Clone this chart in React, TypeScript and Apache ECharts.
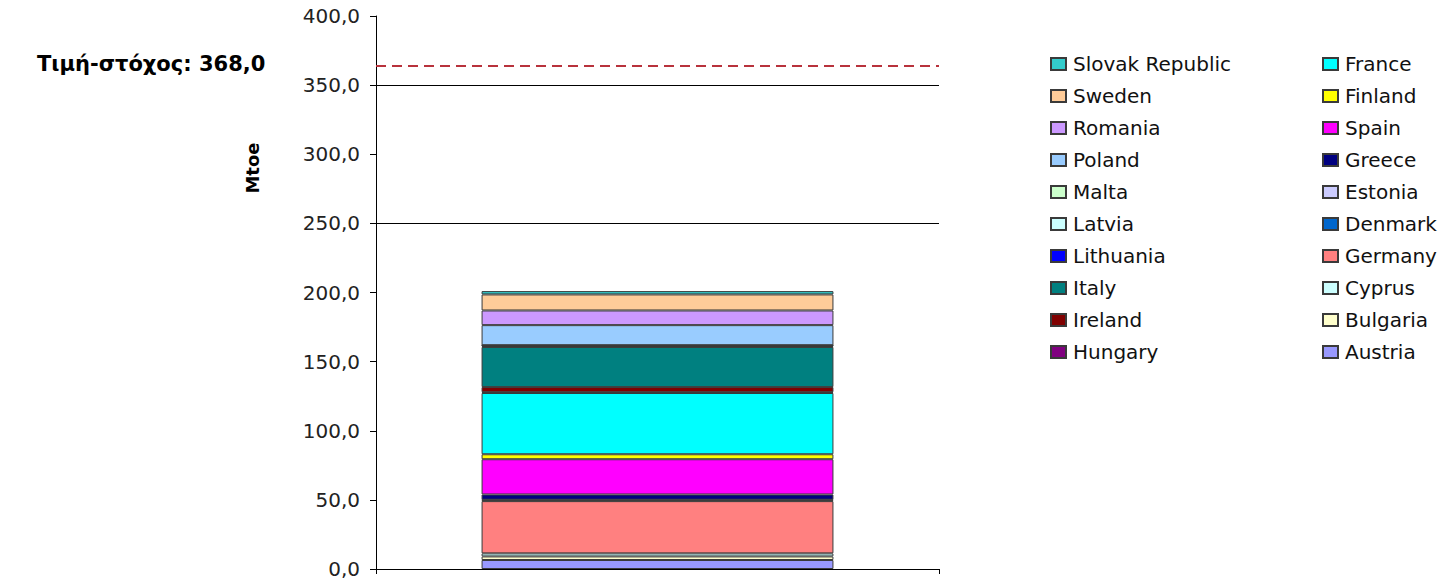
import React, { useEffect, useRef } from "react";
import * as echarts from "echarts";

// Stack order, bottom to top
const countries = [
  "Austria", "Bulgaria", "Cyprus", "Germany", "Denmark", "Estonia", "Greece", "Spain",
  "Finland", "France", "Hungary", "Ireland", "Italy", "Lithuania", "Latvia", "Malta",
  "Poland", "Romania", "Sweden", "Slovak Republic",
];
const values = [
  6.5, 2.6, 2.2, 37.8, 0.6, 0.4, 3.8, 25.5,
  3.6, 44.3, 0.6, 3.7, 29.0, 0.8, 0.4, 0.1,
  14.5, 10.6, 11.6, 2.4,
];
const colors = [
  "#9999FF", "#FFFFCC", "#CCFFFF", "#FF8080", "#0066CC", "#CCCCFF", "#000080", "#FF00FF",
  "#FFFF00", "#00FFFF", "#800080", "#800000", "#008080", "#0000FF", "#CCFFFF", "#CCFFCC",
  "#99CCFF", "#CC99FF", "#FFCC99", "#33CCCC",
];
const legendCol1 = [
  "Slovak Republic", "Sweden", "Romania", "Poland", "Malta",
  "Latvia", "Lithuania", "Italy", "Ireland", "Hungary",
];
const legendCol2 = [
  "France", "Finland", "Spain", "Greece", "Estonia",
  "Denmark", "Germany", "Cyprus", "Bulgaria", "Austria",
];
const category = ["2020"];
const targetValue = 368.0;
const targetLine = 364;
const gridLines = [250, 350];

const FONT = "DejaVu Sans";

export default function App() {
  const ref = useRef<HTMLDivElement>(null);
  useEffect(() => {
    document.body.style.margin = "0";
    const chart = echarts.init(ref.current!, null, { renderer: "svg" });
    const legendCommon = {
      orient: "vertical",
      top: 49,
      itemWidth: 15,
      itemHeight: 12,
      itemGap: 12,
      icon: "rect",
      textStyle: { fontFamily: FONT, fontSize: 20, color: "#111", lineHeight: 20, padding: [0, 0, 0, 2] },
      selectedMode: false,
    };
    const series: any[] = countries.map((name, i) => ({
      name,
      type: "bar",
      stack: "total",
      barWidth: "62.5%",
      data: [values[i]],
      itemStyle: { color: colors[i], borderColor: "#3a3a3a", borderWidth: 1 },
    }));
    series[0].markLine = {
      silent: true,
      symbol: "none",
      label: { show: false },
      data: [
        { yAxis: targetLine, lineStyle: { color: "#B8323C", type: [10, 6], width: 2 } },
        ...gridLines.map((v) => ({ yAxis: v, lineStyle: { color: "#000", type: "solid", width: 1 } })),
      ],
    };
    chart.setOption({
      animation: false,
      backgroundColor: "#fff",
      grid: { left: 376, right: 500, top: 16, bottom: 11 },
      legend: [
        { ...legendCommon, left: 1045, data: legendCol1 },
        { ...legendCommon, left: 1317, data: legendCol2 },
      ],
      xAxis: {
        type: "category",
        data: category,
        axisLine: { lineStyle: { color: "#000" } },
        axisTick: { show: true, length: 5, lineStyle: { color: "#000" } },
        axisLabel: { show: false },
      },
      yAxis: {
        type: "value",
        min: 0,
        max: 400,
        interval: 50,
        axisLine: { show: true, lineStyle: { color: "#000" } },
        axisTick: { show: true, length: 6, lineStyle: { color: "#000" } },
        splitLine: { show: false },
        axisLabel: {
          margin: 16,
          fontFamily: FONT,
          fontSize: 20,
          color: "#222",
          formatter: (v: number) => v.toFixed(1).replace(".", ","),
        },
      },
      graphic: [
        {
          type: "text",
          left: 37,
          top: 53,
          style: {
            text: "Τιμή-στόχος: " + targetValue.toFixed(1).replace(".", ","),
            fontFamily: FONT,
            fontSize: 21,
            fontWeight: "bold",
            fill: "#000",
          },
        },
        {
          type: "text",
          x: 252,
          y: 168,
          rotation: Math.PI / 2,
          style: {
            text: "Mtoe",
            fontFamily: FONT,
            fontSize: 18,
            fontWeight: "bold",
            fill: "#000",
            align: "center",
            verticalAlign: "middle",
          },
        },
      ],
      series,
    });
    return () => chart.dispose();
  }, []);
  return <div ref={ref} style={{ width: 1439, height: 580 }} />;
}
